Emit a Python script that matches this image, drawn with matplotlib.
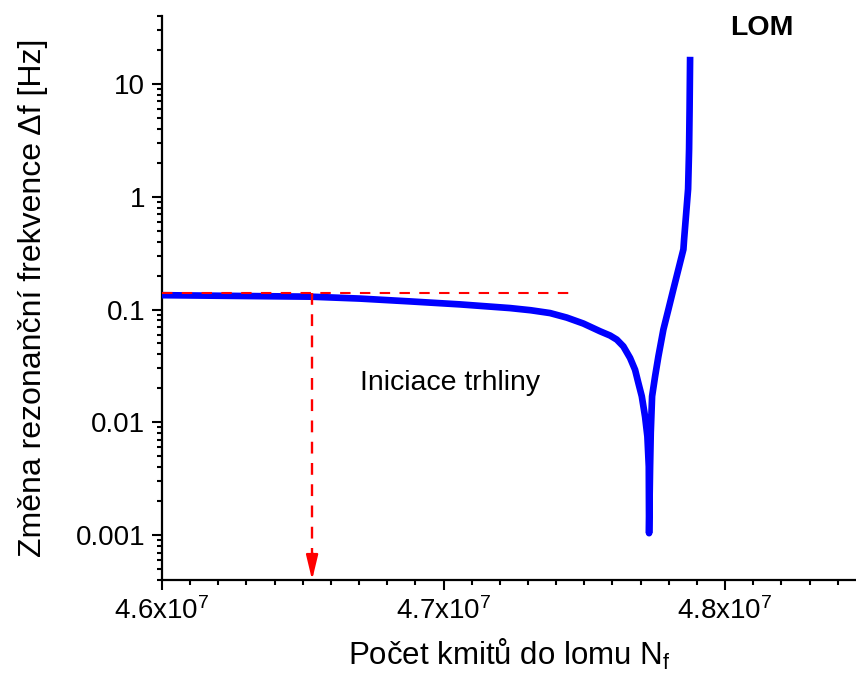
import matplotlib
matplotlib.use('Agg')
import matplotlib.pyplot as plt
from matplotlib.ticker import FixedLocator, MultipleLocator, LogLocator, FuncFormatter, NullFormatter

plt.rcParams['font.family'] = ['Liberation Sans', 'DejaVu Sans']
plt.rcParams['mathtext.fontset'] = 'custom'
plt.rcParams['mathtext.rm'] = 'Liberation Sans'
plt.rcParams['mathtext.default'] = 'regular'

# data (cycles, |delta f| in Hz)
cycles = [4.6000e7, 4.6260e7, 4.6526e7, 4.6703e7, 4.6881e7, 4.7059e7, 4.7236e7,
          4.7310e7, 4.73783e7, 4.74377e7, 4.74966e7, 4.75560e7, 4.75915e7, 4.76153e7,
          4.76387e7, 4.76625e7, 4.76803e7, 4.76920e7, 4.77041e7, 4.77158e7,
          4.77240e7, 4.77290e7, 4.77300e7, 4.77336e7, 4.77360e7, 4.77407e7,
          4.77513e7, 4.77631e7, 4.77808e7, 4.77986e7, 4.78163e7, 4.78341e7,
          4.78519e7, 4.78544e7, 4.78615e7, 4.78686e7, 4.78721e7, 4.78739e7,
          4.78757e7]
delta_f = [0.134, 0.132, 0.130, 0.125, 0.118, 0.111, 0.103,
           0.0985, 0.0930, 0.0848, 0.0751, 0.0641, 0.0588, 0.0541,
           0.0471, 0.0372, 0.0292, 0.0223, 0.0170, 0.0112,
           0.00749, 0.00404, 0.00104, 0.00404, 0.0081, 0.0170,
           0.0255, 0.0384, 0.0664, 0.100, 0.151, 0.227,
           0.341, 0.419, 0.699, 1.17, 2.65, 6.0,
           17.4]

plateau_level = 0.139
plateau_end = 4.746e7
crack_init = 4.6533e7

x_major = [4.6e7, 4.7e7, 4.8e7]
y_major = [0.001, 0.01, 0.1, 1, 10]

fig = plt.figure(figsize=(8.56, 6.73), dpi=100)
ax = fig.add_axes([0.1893, 0.1382, 0.8107, 0.838])

ax.plot(cycles, delta_f, color='#0000FF', lw=4.8, solid_capstyle='butt', solid_joinstyle='round', zorder=3)

# plateau reference line
ax.plot([cycles[0], plateau_end], [plateau_level, plateau_level], color='#FF0000',
        lw=1.5, dashes=(5, 4.5), zorder=4)
# crack initiation arrow
ax.plot([crack_init, crack_init], [plateau_level, 6.5e-4], color='#FF0000',
        lw=1.7, dashes=(5, 4), zorder=4)
ax.annotate('', xy=(crack_init, 4e-4), xytext=(crack_init, 7e-4),
            arrowprops=dict(arrowstyle='-|>,head_length=0.75,head_width=0.18',
                            color='#FF0000', lw=1.7, mutation_scale=20, shrinkA=0, shrinkB=0),
            zorder=5)

ax.text(4.6703e7, 0.0224, 'Iniciace trhliny', fontsize=20.5, va='center', ha='left')
ax.text(4.8018e7, 31.6, 'LOM', fontsize=20.5, fontweight='bold', va='center', ha='left')

ax.set_yscale('log')
ax.set_xlim(4.6e7, 4.8465e7)
ax.set_ylim(4e-4, 40)

ax.xaxis.set_major_locator(FixedLocator(x_major))
ax.xaxis.set_minor_locator(MultipleLocator(1e5))
ax.xaxis.set_major_formatter(FuncFormatter(lambda v, p: f'{v/1e7:.1f}x10$^{{7}}$'))
ax.yaxis.set_major_locator(FixedLocator(y_major))
ax.yaxis.set_minor_locator(LogLocator(base=10, subs=[2, 3, 4, 5, 6, 7, 8, 9], numticks=20))
ax.yaxis.set_major_formatter(FuncFormatter(lambda v, p: f'{v:g}'))
ax.yaxis.set_minor_formatter(NullFormatter())

ax.spines['top'].set_visible(False)
ax.spines['right'].set_visible(False)
for s in ['left', 'bottom']:
    ax.spines[s].set_linewidth(1.6)
ax.tick_params(which='major', direction='out', length=7.2, width=1.5, labelsize=20, pad=5)
ax.tick_params(which='minor', direction='out', length=3.8, width=1.5)

ax.set_xlabel('Počet kmitů do lomu N$_f$', fontsize=22.5, labelpad=9)
ax.set_ylabel('Změna rezonanční frekvence Δf [Hz]', fontsize=23, labelpad=20)

fig.savefig('out.png', dpi=100)
